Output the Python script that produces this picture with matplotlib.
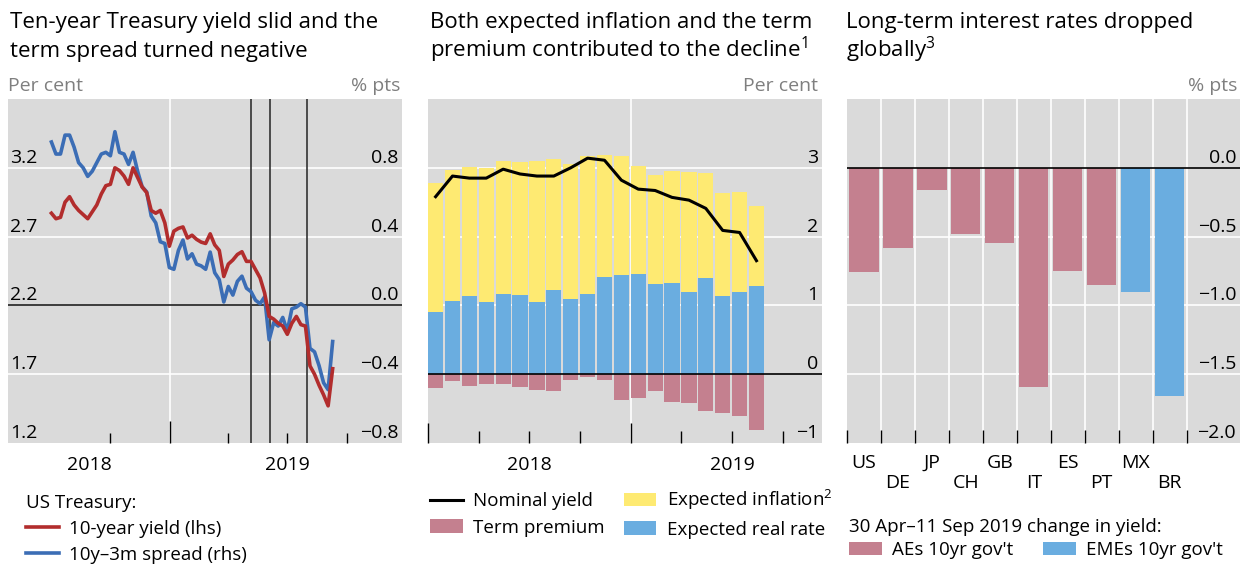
import numpy as np
import pandas as pd
import matplotlib
matplotlib.use('Agg')
import matplotlib.pyplot as plt
from matplotlib import transforms

plt.rcParams['font.family'] = ['Open Sans', 'DejaVu Sans']
plt.rcParams['mathtext.fontset'] = 'custom'
plt.rcParams['mathtext.rm'] = 'Open Sans'
plt.rcParams['mathtext.default'] = 'rm'

# Panel 1: weekly readings from Jul 2018, 10-year yield (lhs, %) and 10y-3m spread (rhs, % pts)
week_dates = pd.date_range('2018-07-02', periods=63, freq='7D')
yield_10y = [2.87, 2.83, 2.84, 2.95, 2.99, 2.93, 2.89, 2.86, 2.83, 2.88,
             2.93, 3.01, 3.07, 3.08, 3.20, 3.18, 3.14, 3.08, 3.20, 3.13,
             3.06, 3.02, 2.89, 2.87, 2.89, 2.80, 2.63, 2.74, 2.76, 2.77,
             2.69, 2.71, 2.68, 2.66, 2.65, 2.72, 2.64, 2.60, 2.41, 2.50,
             2.53, 2.57, 2.59, 2.52, 2.52, 2.46, 2.40, 2.29, 2.12, 2.10,
             2.07, 2.05, 1.99, 2.07, 2.12, 2.06, 2.05, 1.76, 1.70, 1.62,
             1.55, 1.47, 1.74]
spread_10y3m = [0.95, 0.88, 0.88, 0.99, 0.99, 0.92, 0.83, 0.80, 0.75, 0.78,
                0.83, 0.88, 0.89, 0.87, 1.01, 0.89, 0.88, 0.82, 0.89, 0.78,
                0.69, 0.66, 0.52, 0.48, 0.37, 0.36, 0.22, 0.21, 0.32, 0.38,
                0.27, 0.30, 0.24, 0.23, 0.21, 0.31, 0.19, 0.15, 0.02, 0.11,
                0.06, 0.14, 0.17, 0.10, 0.08, 0.03, 0.01, 0.05, -0.20, -0.10,
                -0.12, -0.07, -0.15, -0.02, -0.01, 0.01, -0.01, -0.25, -0.27, -0.35,
                -0.45, -0.49, -0.21]
event_dates = pd.to_datetime(['2019-05-06', '2019-06-05', '2019-08-01'])

# Panel 2: monthly decomposition, Jan 2018 - Aug 2019
months = pd.date_range('2018-01-01', periods=20, freq='MS')
real_rate = [0.91, 1.07, 1.14, 1.05, 1.17, 1.15, 1.05, 1.23, 1.10, 1.17,
             1.41, 1.44, 1.46, 1.31, 1.33, 1.20, 1.40, 1.13, 1.20, 1.28]
exp_inflation = [1.87, 1.90, 1.87, 1.94, 1.93, 1.94, 2.05, 1.90, 1.95, 2.00,
                 1.78, 1.73, 1.57, 1.59, 1.63, 1.74, 1.53, 1.50, 1.45, 1.17]
term_premium = [-0.20, -0.10, -0.17, -0.14, -0.14, -0.18, -0.23, -0.25, -0.09, -0.04,
                -0.09, -0.38, -0.35, -0.25, -0.40, -0.42, -0.53, -0.56, -0.61, -0.81]
nominal_yield = [2.58, 2.88, 2.85, 2.85, 2.98, 2.91, 2.88, 2.88, 3.00, 3.14,
                 3.11, 2.82, 2.69, 2.67, 2.57, 2.53, 2.41, 2.09, 2.06, 1.65]

# Panel 3: change in 10-year yields, 30 Apr - 11 Sep 2019
countries = ['US', 'DE', 'JP', 'CH', 'GB', 'IT', 'ES', 'PT', 'MX', 'BR']
yield_change = [-0.76, -0.58, -0.16, -0.48, -0.55, -1.59, -0.75, -0.85, -0.90, -1.66]
groups = ['AE', 'AE', 'AE', 'AE', 'AE', 'AE', 'AE', 'AE', 'EME', 'EME']

BG = '#dadada'
RED = '#b22d2d'
BLUE_LINE = '#3b6db5'
PINK = '#c4808f'
BLUE = '#6aade0'
YELLOW = '#feea72'
GREY_TXT = '#7f7f7f'
TICK_FS = 14
TITLE_FS = 16
LEG_FS = 13.5

W, H = 1249, 566
fig = plt.figure(figsize=(W / 100, H / 100), dpi=100)


def fx(px):
    return px / W


def fy(py):
    return 1 - py / H


def ylabels(ax, values, fmt, side):
    blend = transforms.blended_transform_factory(ax.transAxes, ax.transData)
    tr = transforms.offset_copy(blend, fig=fig, y=5, units='dots')
    for v in values:
        s = fmt.format(v).replace('-', '\u2212')
        if side == 'left':
            ax.text(0.006, v, s, transform=tr, ha='left', va='baseline', fontsize=TICK_FS)
        else:
            ax.text(0.99, v, s, transform=tr, ha='right', va='baseline', fontsize=TICK_FS)


def hide_spines(ax):
    for sp in ax.spines.values():
        sp.set_visible(False)


def title(px, lines):
    for k, line in enumerate(lines):
        fig.text(fx(px), fy(28 + 29 * k), line, fontsize=TITLE_FS, va='baseline', ha='left')


# ---------------- Panel 1 ----------------
ax1r = fig.add_axes([fx(8), fy(443), fx(394), 344 / H])
ax1 = ax1r.twinx()
ax1.set_zorder(ax1r.get_zorder() + 1)
ax1.patch.set_visible(False)
ax1r.set_facecolor(BG)
for a in (ax1, ax1r):
    hide_spines(a)
    a.set_yticks([])
ax1.set_ylim(1.2, 3.7)
ax1r.set_ylim(-0.8, 1.2)
xl = (pd.Timestamp('2018-04-26'), pd.Timestamp('2019-12-25'))
ax1r.set_xlim(xl)

for v in [0.8, 0.4, -0.4]:
    ax1r.axhline(v, color='white', lw=1.2, zorder=1)
ax1r.axvline(pd.Timestamp('2019-01-01'), color='white', lw=1.2, zorder=1)
ax1r.axhline(0.0, color='#222222', lw=1.2, zorder=2)
for d in event_dates:
    ax1r.axvline(d, color='#333333', lw=1.2, zorder=2)

blue_ln, = ax1r.plot(week_dates, spread_10y3m, color=BLUE_LINE, lw=2.6, zorder=3)
red_ln, = ax1.plot(week_dates, yield_10y, color=RED, lw=2.6, zorder=3)

ax1r.set_xticks([pd.Timestamp('2019-01-01')])
ax1r.set_xticks(pd.to_datetime(['2018-10-01', '2019-04-01', '2019-07-01', '2019-10-01']), minor=True)
ax1r.tick_params(axis='x', which='major', direction='in', length=16, width=1, labelbottom=False)
ax1r.tick_params(axis='x', which='minor', direction='in', length=7.5, width=1, labelbottom=False)
ax1.tick_params(axis='x', which='both', length=0, labelbottom=False)

ylabels(ax1, [1.2, 1.7, 2.2, 2.7, 3.2], '{:.1f}', 'left')
ylabels(ax1r, [-0.8, -0.4, 0.0, 0.4, 0.8], '{:.1f}', 'right')
bx = transforms.blended_transform_factory(ax1r.transData, ax1r.transAxes)
ax1r.text(xl[0] + (pd.Timestamp('2019-01-01') - xl[0]) / 2, -0.064, '2018', transform=bx,
          ha='center', va='center', fontsize=TICK_FS)
ax1r.text(pd.Timestamp('2019-07-01'), -0.064, '2019', transform=bx,
          ha='center', va='center', fontsize=TICK_FS)

title(10, ['Ten-year Treasury yield slid and the', 'term spread turned negative'])
fig.text(fx(8), fy(91), 'Per cent', color=GREY_TXT, fontsize=TICK_FS, va='baseline', ha='left')
fig.text(fx(400), fy(91), '% pts', color=GREY_TXT, fontsize=TICK_FS, va='baseline', ha='right')

fig.legend([red_ln, blue_ln], ['10-year yield (lhs)', '10y\u20133m spread (rhs)'],
           loc='upper left', bbox_to_anchor=(fx(26), fy(494)), frameon=False,
           title='US Treasury:', alignment='left', fontsize=LEG_FS, title_fontsize=LEG_FS,
           handlelength=1.75, handletextpad=0.55, labelspacing=0.42, borderpad=0, borderaxespad=0)

# ---------------- Panel 2 ----------------
ax2 = fig.add_axes([fx(428), fy(443), fx(394), 344 / H])
ax2.set_facecolor(BG)
hide_spines(ax2)
pos = np.arange(len(months))
ax2.set_xlim(0, 23.33)
ax2.set_ylim(-1, 4)
for v in [1, 2, 3]:
    ax2.axhline(v, color='white', lw=1.2, zorder=0.5)
ax2.axvline(12, color='white', lw=1.2, zorder=0.5)
b_real = ax2.bar(pos, real_rate, width=0.9, align='edge', color=BLUE, zorder=1)
b_infl = ax2.bar(pos, exp_inflation, width=0.9, align='edge', bottom=real_rate, color=YELLOW, zorder=1)
b_tp = ax2.bar(pos, term_premium, width=0.9, align='edge', color=PINK, zorder=1)
ax2.axhline(0, color='black', lw=1.2, zorder=2)
nom_ln, = ax2.plot(pos + 0.45, nominal_yield, color='black', lw=2.2, zorder=3)
ax2.set_yticks([])
ax2.set_xticks([0, 12])
ax2.set_xticks([3, 6, 9, 15, 18, 21], minor=True)
ax2.tick_params(axis='x', which='major', direction='in', length=14.5, width=1, labelbottom=False)
ax2.tick_params(axis='x', which='minor', direction='in', length=8.5, width=1, labelbottom=False)
ylabels(ax2, [-1, 0, 1, 2, 3], '{:d}', 'right')
bx2 = transforms.blended_transform_factory(ax2.transData, ax2.transAxes)
ax2.text(6, -0.064, '2018', transform=bx2, ha='center', va='center', fontsize=TICK_FS)
ax2.text(18, -0.064, '2019', transform=bx2, ha='center', va='center', fontsize=TICK_FS)

title(430, ['Both expected inflation and the term', 'premium contributed to the decline$^{1}$'])
fig.text(fx(818), fy(91), 'Per cent', color=GREY_TXT, fontsize=TICK_FS, va='baseline', ha='right')

fig.legend([nom_ln, b_tp[0], b_infl[0], b_real[0]],
           ['Nominal yield', 'Term premium', 'Expected inflation$^{2}$', 'Expected real rate'],
           loc='upper left', bbox_to_anchor=(fx(430), fy(488)), frameon=False, ncol=2,
           fontsize=LEG_FS, handlelength=1.75, handletextpad=0.55, labelspacing=0.45,
           columnspacing=1.0, borderpad=0, borderaxespad=0)

# ---------------- Panel 3 ----------------
ax3 = fig.add_axes([fx(847), fy(443), fx(393), 344 / H])
ax3.set_facecolor(BG)
hide_spines(ax3)
cpos = np.arange(len(countries))
ax3.set_xlim(-0.5, 11.07)
ax3.set_ylim(-2.0, 0.5)
for v in [-0.5, -1.0, -1.5]:
    ax3.axhline(v, color='white', lw=1.2, zorder=0.5)
for b in cpos + 0.5:
    ax3.axvline(b, color='white', lw=1.2, zorder=0.5)
colors = [PINK if g == 'AE' else BLUE for g in groups]
bars3 = ax3.bar(cpos, yield_change, width=0.86, color=colors, zorder=1)
ax3.axhline(0, color='black', lw=1.2, zorder=2)
ax3.set_yticks([])
ax3.set_xticks(np.append(cpos - 0.5, cpos[-1] + 0.5))
ax3.tick_params(axis='x', direction='in', length=9.5, width=1, labelbottom=False)
ylabels(ax3, [-2.0, -1.5, -1.0, -0.5, 0.0], '{:.1f}', 'right')
bx3 = transforms.blended_transform_factory(ax3.transData, ax3.transAxes)
for k, c in enumerate(countries):
    ax3.text(k, -0.058 if k % 2 == 0 else -0.116, c, transform=bx3,
             ha='center', va='center', fontsize=TICK_FS)

title(846, ['Long-term interest rates dropped', 'globally$^{3}$'])
fig.text(fx(1237), fy(91), '% pts', color=GREY_TXT, fontsize=TICK_FS, va='baseline', ha='right')

fig.legend([bars3[0], bars3[8]], ["AEs 10yr gov't", "EMEs 10yr gov't"],
           loc='upper left', bbox_to_anchor=(fx(849), fy(518)), frameon=False, ncol=2,
           title='30 Apr\u201311 Sep 2019 change in yield:', alignment='left',
           fontsize=LEG_FS, title_fontsize=LEG_FS, handlelength=1.75, handletextpad=0.55,
           labelspacing=0.28, columnspacing=1.6, borderpad=0, borderaxespad=0)

fig.savefig('out.png', dpi=100)
